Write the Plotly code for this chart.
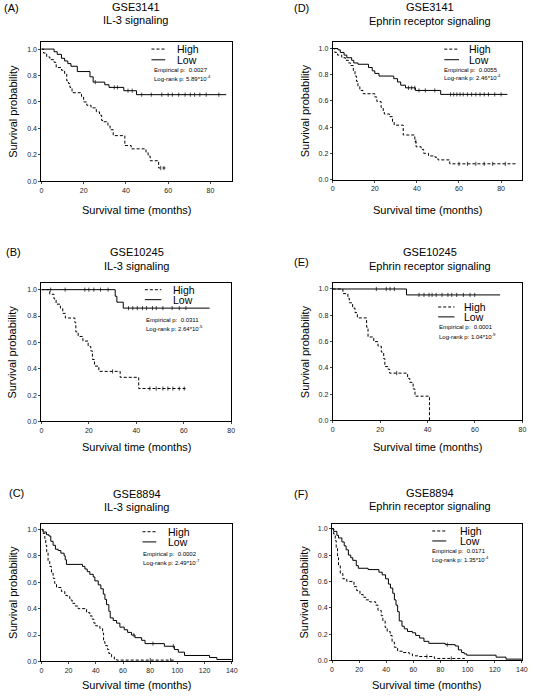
import plotly.graph_objects as go

W, H = 537, 697

# ---------------- data ----------------
# Panel A: GSE3141, IL-3 signaling
A_high_t = [0, 1, 2.5, 4, 6, 7, 9.5, 11, 12, 12.8, 13.5, 14.5, 19, 20, 21.5, 23.5, 26, 27.5, 28.5, 29.5,
            31.5, 32.5, 34, 39.5, 42.5, 49.5, 50.5, 51.5, 55.5, 59.5]
A_high_s = [1, 0.97, 0.94, 0.92, 0.90, 0.86, 0.84, 0.81, 0.76, 0.74, 0.71, 0.67, 0.64, 0.60, 0.575, 0.555,
            0.525, 0.50, 0.46, 0.45, 0.42, 0.39, 0.345, 0.27, 0.245, 0.22, 0.19, 0.155, 0.10, 0.10]
A_high_c = [56.5, 58]
A_low_t = [0, 6, 7.5, 9.5, 11, 12.5, 14, 17, 23, 24.5, 30, 32, 39, 45, 87.5]
A_low_s = [1, 0.98, 0.96, 0.93, 0.91, 0.89, 0.87, 0.83, 0.79, 0.75, 0.73, 0.71, 0.685, 0.655, 0.655]
A_low_c = [25.5, 34.5, 36, 41, 43, 47.5, 52, 57, 60, 62, 65, 68, 70.5, 72.5, 75, 78, 84]

# Panel D: GSE3141, Ephrin receptor signaling
D_high_t = [0, 1, 2.3, 4.3, 6, 7.5, 8.5, 9.8, 10.6, 11.3, 12, 12.9, 14.4, 20, 21, 23, 24, 24.5, 27, 28.4,
            29.2, 33.5, 39, 39.6, 42, 43.2, 45.5, 48.6, 50, 55.6, 87.5]
D_high_s = [1, 0.97, 0.95, 0.93, 0.91, 0.89, 0.87, 0.83, 0.79, 0.75, 0.71, 0.68, 0.655, 0.63, 0.595, 0.55,
            0.52, 0.50, 0.48, 0.44, 0.415, 0.34, 0.29, 0.25, 0.23, 0.20, 0.18, 0.17, 0.15, 0.12, 0.12]
D_high_c = [39.5, 60, 64, 68, 72, 76, 82]
D_low_t = [0, 2.5, 3.6, 5.4, 6.7, 9, 10, 12, 17, 18.8, 20, 22, 29, 30.8, 32.3, 34.6, 39.3, 51.3, 83]
D_low_s = [1, 0.99, 0.97, 0.95, 0.93, 0.91, 0.89, 0.88, 0.855, 0.83, 0.81, 0.79, 0.77, 0.745, 0.72, 0.70,
           0.68, 0.65, 0.65]
D_low_c = [36, 37.5, 39, 41, 44, 48.5, 56, 57.5, 59, 60.5, 62, 64, 66, 68, 70, 72, 74, 77, 80]

# Panel B: GSE10245, IL-3 signaling
B_high_t = [0, 3.5, 5.3, 6.2, 8, 9, 10.1, 14.1, 14.5, 15.5, 17.5, 19.7, 20.8, 21.5, 22.4, 24.2, 33.2, 41, 61]
B_high_s = [1, 0.965, 0.93, 0.89, 0.86, 0.82, 0.785, 0.75, 0.68, 0.645, 0.61, 0.57, 0.535, 0.47, 0.42,
            0.38, 0.335, 0.25, 0.25]
B_high_c = [30, 45.7, 48.4, 51.2, 53.3, 55.4, 58.1, 60.2]
B_low_t = [0, 31.1, 31.8, 34.5, 70.9]
B_low_s = [1, 0.95, 0.905, 0.86, 0.86]
B_low_c = [3.9, 10, 18.3, 20, 22.1, 24.9, 28.1, 36.7, 38.5, 40.4, 42.6, 44.3, 46.8, 48.4, 51.2, 55.1,
           58.1, 60.9]

# Panel E: GSE10245, Ephrin receptor signaling
E_high_t = [0, 4.3, 6.4, 7, 8.4, 9.4, 10.4, 14.3, 14.9, 17.3, 19.1, 20.5, 21.5, 22, 23.3, 24, 31.6, 32.5,
            33.9, 34.7, 40.8]
E_high_s = [1, 0.965, 0.93, 0.895, 0.855, 0.82, 0.78, 0.71, 0.635, 0.60, 0.565, 0.52, 0.47, 0.41, 0.39,
            0.36, 0.32, 0.29, 0.24, 0.185, 0.0]
E_high_c = [27]
E_low_t = [0, 31.1, 70.6]
E_low_s = [1, 0.955, 0.955]
E_low_c = [18.4, 22.6, 24.2, 26, 36.4, 38.5, 40.6, 41.9, 43.6, 46.1, 48.6, 50.2, 52.3, 55.1, 57.9, 59.9]

# Panel C: GSE8894, IL-3 signaling
C_high_t = [0, 1.2, 2.5, 3.2, 3.9, 4.9, 6.1, 7.4, 8.6, 9.8, 11.1, 14.7, 17.2, 19.2, 20.9, 22.6, 24.6, 27,
            33.2, 35.6, 37.3, 38.6, 39.8, 43, 45, 45.7, 46.7, 48.6, 49.6, 51.6, 53.6, 55.3, 98.5]
C_high_s = [1, 0.97, 0.93, 0.88, 0.83, 0.76, 0.72, 0.67, 0.63, 0.59, 0.56, 0.53, 0.50, 0.49, 0.465, 0.44,
            0.42, 0.40, 0.37, 0.345, 0.32, 0.29, 0.27, 0.25, 0.215, 0.15, 0.12, 0.09, 0.06, 0.035, 0.015,
            0.01, 0.01]
C_high_c = [80, 95]
C_low_t = [0, 1.2, 3.7, 5.5, 6.9, 8.6, 10.3, 12.3, 14.3, 16.7, 17.5, 18.4, 30.2, 32, 33.7, 35.6, 38.1,
           39.3, 41.8, 43.7, 45.5, 46.7, 47.9, 49.6, 50.6, 52.8, 55.3, 57.7, 60.9, 63.4, 66.3, 68.8, 73.7,
           76.2, 90.4, 97.8, 100.7, 105.2, 123.6, 129, 140]
C_low_s = [1, 0.98, 0.96, 0.95, 0.91, 0.88, 0.85, 0.84, 0.82, 0.80, 0.77, 0.735, 0.72, 0.70, 0.68, 0.66,
           0.64, 0.61, 0.58, 0.55, 0.51, 0.47, 0.43, 0.38, 0.33, 0.31, 0.29, 0.26, 0.24, 0.22, 0.20, 0.18,
           0.16, 0.135, 0.115, 0.09, 0.07, 0.045, 0.03, 0.015, 0.015]
C_low_c = [68, 82, 97]

# Panel F: GSE8894, Ephrin receptor signaling
F_high_t = [0, 1.2, 2.4, 3.1, 4.1, 4.8, 6.1, 8, 10.9, 16.2, 18.2, 20.6, 23, 24.9, 27.8, 32.2, 33.9, 36.3,
            37.5, 39.2, 40.7, 42.9, 44.3, 46, 48.4, 52.1, 56.9, 59.3, 64.2, 75.5, 98]
F_high_s = [1, 0.96, 0.91, 0.85, 0.78, 0.72, 0.66, 0.62, 0.60, 0.56, 0.53, 0.50, 0.48, 0.46, 0.445, 0.42,
            0.38, 0.34, 0.30, 0.25, 0.22, 0.19, 0.14, 0.10, 0.07, 0.06, 0.05, 0.035, 0.03, 0.015, 0.015]
F_high_c = [70, 88]
F_low_t = [0, 1.2, 3.6, 4.8, 7.3, 9, 10.4, 12.1, 13.8, 15.3, 17.9, 19.4, 26.6, 34.6, 37, 39.5, 41.6, 43.1,
           44.8, 46, 47.2, 48.4, 49.6, 51.6, 53.3, 55.7, 59.3, 61.7, 64.6, 67.8, 71.4, 83.5, 90.8, 93.2,
           95.6, 97.5, 99.3, 121, 128.3, 140]
F_low_s = [1, 0.98, 0.95, 0.93, 0.90, 0.87, 0.84, 0.80, 0.78, 0.76, 0.72, 0.70, 0.69, 0.67, 0.65, 0.62,
           0.58, 0.55, 0.51, 0.46, 0.42, 0.37, 0.30, 0.26, 0.24, 0.22, 0.21, 0.19, 0.17, 0.145, 0.13, 0.12,
           0.11, 0.08, 0.06, 0.05, 0.04, 0.025, 0.01, 0.01]
F_low_c = [85]

panel_labels = ["(A)", "(D)", "(B)", "(E)", "(C)", "(F)"]
datasets = ["GSE3141", "GSE3141", "GSE10245", "GSE10245", "GSE8894", "GSE8894"]
pathways = ["IL-3 signaling", "Ephrin receptor signaling", "IL-3 signaling",
            "Ephrin receptor signaling", "IL-3 signaling", "Ephrin receptor signaling"]
empirical_p = ["0.0027", "0.0055", "0.0311", "0.0001", "0.0002", "0.0171"]
logrank_p = ["5.89*10<sup>-4</sup>", "2.46*10<sup>-4</sup>", "2.64*10<sup>-5</sup>",
             "1.04*10<sup>-9</sup>", "2.49*10<sup>-7</sup>", "1.35*10<sup>-4</sup>"]
x_max = [90, 90, 80, 80, 140, 140]
y_max = [1.055, 1.049, 1.05, 1.045, 1.043, 1.038]
x_ticks = [[0, 20, 40, 60, 80], [0, 20, 40, 60, 80], [0, 20, 40, 60, 80], [0, 20, 40, 60, 80],
           [0, 20, 40, 60, 80, 100, 120, 140], [0, 20, 40, 60, 80, 100, 120, 140]]
y_ticks = [0.0, 0.2, 0.4, 0.6, 0.8, 1.0]

series = [
    (A_high_t, A_high_s, A_high_c, A_low_t, A_low_s, A_low_c),
    (D_high_t, D_high_s, D_high_c, D_low_t, D_low_s, D_low_c),
    (B_high_t, B_high_s, B_high_c, B_low_t, B_low_s, B_low_c),
    (E_high_t, E_high_s, E_high_c, E_low_t, E_low_s, E_low_c),
    (C_high_t, C_high_s, C_high_c, C_low_t, C_low_s, C_low_c),
    (F_high_t, F_high_s, F_high_c, F_low_t, F_low_s, F_low_c),
]

# ---------------- layout geometry (pixels) ----------------
boxes = [  # left, right, top, bottom
    (40, 233, 42, 182),
    (335.7, 528, 42.3, 180.3),
    (40, 232.7, 284.3, 423.3),
    (335.7, 528.3, 284.3, 422.3),
    (40, 233.3, 526, 664.3),
    (335, 527.7, 526, 663.3),
]
label_pos = [(9.7, 8.3), (304, 8), (12, 253.3), (304, 262.7), (14.7, 495), (303.7, 495.7)]
title_pos = [(136, 7, 20.5), (434.5, 7, 20.7), (136.7, 253.3, 266.7), (434.5, 253.3, 266.7),
             (136.7, 495.7, 509.3), (434.5, 495, 508.3)]
ytitle_x = [10.5, 307, 10.5, 307, 10.5, 307]
xtitle_y = [211, 211, 449, 449, 688, 688]
# legend: sample x0, x1, text x, high y, low y, stats x, emp y, logrank y (domain fractions)
legend_geo = [
    (0.579, 0.651, 0.715, 0.948, 0.871, 0.592, 0.798, 0.738),
    (0.589, 0.667, 0.719, 0.949, 0.872, 0.589, 0.800, 0.744),
    (0.545, 0.632, 0.692, 0.952, 0.880, 0.553, 0.736, 0.676),
    (0.556, 0.642, 0.693, 0.826, 0.754, 0.561, 0.679, 0.618),
    (0.531, 0.603, 0.664, 0.942, 0.868, 0.531, 0.781, 0.721),
    (0.528, 0.602, 0.675, 0.947, 0.874, 0.528, 0.801, 0.745),
]

FONT = "Arial, Liberation Sans, sans-serif"
DASH = "3px,2px"


def step_at(ts, ss, t):
    v = ss[0]
    for ti, si in zip(ts, ss):
        if ti <= t:
            v = si
        else:
            break
    return v


def px(x):
    return x / W


def py(y):
    return 1 - y / H


fig = go.Figure()
annotations = []
shapes = []

for i in range(6):
    n = "" if i == 0 else str(i + 1)
    xa, ya = "x" + n, "y" + n
    ht, hs, hc, lt, ls, lc = series[i]
    for ts, ss, cs, dash in ((ht, hs, hc, DASH), (lt, ls, lc, "solid")):
        fig.add_trace(go.Scatter(x=ts, y=ss, mode="lines", line=dict(color="black", width=1, dash=dash,
                                 shape="hv"), xaxis=xa, yaxis=ya, showlegend=False, hoverinfo="skip"))
        fig.add_trace(go.Scatter(x=cs, y=[step_at(ts, ss, c) for c in cs], mode="markers",
                                 marker=dict(symbol="line-ns", size=3, line=dict(color="black", width=0.7)),
                                 xaxis=xa, yaxis=ya, showlegend=False, hoverinfo="skip"))

    L, R, T, B = boxes[i]
    fig.layout["xaxis" + n] = dict(domain=[px(L), px(R)], range=[0, x_max[i]], anchor=ya,
                                   tickvals=x_ticks[i], ticks="outside", ticklen=2, tickwidth=1,
                                   tickfont=dict(size=7, family=FONT, color="#222"),
                                   showline=True, linecolor="black", linewidth=1, mirror=True,
                                   showgrid=False, zeroline=False)
    fig.layout["yaxis" + n] = dict(domain=[py(B), py(T)], range=[0, y_max[i]], anchor=xa,
                                   tickvals=y_ticks, tickformat=".1f", ticks="outside", ticklen=2,
                                   tickwidth=1, tickfont=dict(size=7, family=FONT, color="#222"),
                                   showline=True, linecolor="black", linewidth=1, mirror=True,
                                   showgrid=False, zeroline=False)

    # titles
    lx, ly = label_pos[i]
    annotations.append(dict(x=px(lx), y=py(ly), xref="paper", yref="paper", text=panel_labels[i],
                            showarrow=False, font=dict(size=11, family=FONT, color="black"),
                            xanchor="center", yanchor="middle"))
    tx, ty1, ty2 = title_pos[i]
    annotations.append(dict(x=px(tx), y=py(ty1), xref="paper", yref="paper", text=datasets[i],
                            showarrow=False, font=dict(size=11, family=FONT, color="black"),
                            xanchor="center", yanchor="middle"))
    annotations.append(dict(x=px(tx), y=py(ty2), xref="paper", yref="paper", text=pathways[i],
                            showarrow=False, font=dict(size=11, family=FONT, color="black"),
                            xanchor="center", yanchor="middle"))
    # axis titles
    annotations.append(dict(x=px(ytitle_x[i]), y=py((T + B) / 2), xref="paper", yref="paper",
                            text="Survival probability", textangle=-90, showarrow=False,
                            font=dict(size=11, family=FONT, color="black"),
                            xanchor="center", yanchor="middle"))
    annotations.append(dict(x=px((L + R) / 2), y=py(xtitle_y[i]), xref="paper", yref="paper",
                            text="Survival time (months)", showarrow=False,
                            font=dict(size=11, family=FONT, color="black"),
                            xanchor="center", yanchor="middle"))

    # legend (samples + labels) and statistics
    sx0, sx1, tx_, hy, ly_, stx, ey, lry = legend_geo[i]
    xd, yd = xa + " domain", ya + " domain"
    shapes.append(dict(type="line", xref=xd, yref=yd, x0=sx0, x1=sx1, y0=hy, y1=hy,
                       line=dict(color="black", width=1, dash=DASH)))
    shapes.append(dict(type="line", xref=xd, yref=yd, x0=sx0, x1=sx1, y0=ly_, y1=ly_,
                       line=dict(color="black", width=1)))
    for yy, txt in ((hy, "High"), (ly_, "Low")):
        annotations.append(dict(x=tx_, y=yy, xref=xd, yref=yd, text=txt, showarrow=False,
                                font=dict(size=10.5, family=FONT, color="black"),
                                xanchor="left", yanchor="middle", xshift=-2))
    annotations.append(dict(x=stx, y=ey, xref=xd, yref=yd, text="Empirical p:  " + empirical_p[i],
                            showarrow=False, font=dict(size=6, family=FONT, color="black"),
                            xanchor="left", yanchor="middle", xshift=-2))
    annotations.append(dict(x=stx, y=lry, xref=xd, yref=yd, text="Log-rank p: " + logrank_p[i],
                            showarrow=False, font=dict(size=6, family=FONT, color="black"),
                            xanchor="left", yanchor="middle", xshift=-2))

fig.update_layout(width=W, height=H, margin=dict(l=0, r=0, t=0, b=0),
                  paper_bgcolor="white", plot_bgcolor="white",
                  annotations=annotations, shapes=shapes, showlegend=False)

fig.write_html("out.html", config={"displayModeBar": False, "staticPlot": True},
               post_script="document.body.style.margin='0';document.body.style.padding='0';")
